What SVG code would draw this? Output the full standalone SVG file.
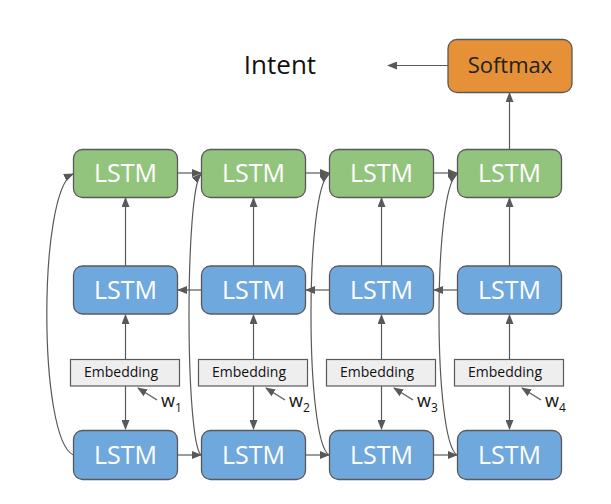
<svg xmlns="http://www.w3.org/2000/svg" width="611" height="504" viewBox="0 0 611 504">
<style>
.box{stroke:#595959;stroke-width:1.3}
.g{fill:#93c47d}.b{fill:#6fa8dc}.o{fill:#e69138}
.emb{fill:#eeeeee;stroke:#595959;stroke-width:1.2}
.lt{font-family:"Open Sans",sans-serif;font-size:25px;fill:#ffffff;text-anchor:middle}
.et{font-family:"Open Sans",sans-serif;font-size:14px;fill:#111;text-anchor:middle}
.wt{font-family:"Open Sans",sans-serif;font-size:18px;fill:#111}
.ws{font-size:12px}
.c line,.c path{stroke:#595959;stroke-width:1.2;fill:none;marker-end:url(#ah)}
</style>
<defs>
<marker id="ah" markerWidth="10" markerHeight="8" refX="9" refY="4" orient="auto" markerUnits="userSpaceOnUse">
<path d="M0,0 L10,4 L0,8 Z" fill="#595959"/>
</marker>
</defs>
<rect width="611" height="504" fill="#ffffff"/>
<g id="connectors" class="c">
<line x1="448" y1="65.5" x2="388" y2="65.5"/>
<line x1="509.5" y1="149" x2="509.5" y2="93"/>
<line x1="177.5" y1="173" x2="201" y2="173"/>
<line x1="305.5" y1="173" x2="329" y2="173"/>
<line x1="433.5" y1="173" x2="457" y2="173"/>
<line x1="201.5" y1="290" x2="178" y2="290"/>
<line x1="329.5" y1="290" x2="306" y2="290"/>
<line x1="457.5" y1="290" x2="434" y2="290"/>
<line x1="177.5" y1="455" x2="201" y2="455"/>
<line x1="305.5" y1="455" x2="329" y2="455"/>
<line x1="433.5" y1="455" x2="457" y2="455"/>
<line x1="125.5" y1="266" x2="125.5" y2="198"/>
<line x1="253.5" y1="266" x2="253.5" y2="198"/>
<line x1="381.5" y1="266" x2="381.5" y2="198"/>
<line x1="509.5" y1="266" x2="509.5" y2="198"/>
<line x1="125.5" y1="359" x2="125.5" y2="315"/>
<line x1="253.5" y1="359" x2="253.5" y2="315"/>
<line x1="381.5" y1="359" x2="381.5" y2="315"/>
<line x1="509.5" y1="359" x2="509.5" y2="315"/>
<line x1="125.5" y1="386" x2="125.5" y2="429"/>
<line x1="253.5" y1="386" x2="253.5" y2="429"/>
<line x1="381.5" y1="386" x2="381.5" y2="429"/>
<line x1="509.5" y1="386" x2="509.5" y2="429"/>
<line x1="157" y1="400" x2="138" y2="388"/>
<line x1="285" y1="400" x2="266" y2="388"/>
<line x1="413" y1="400" x2="394" y2="388"/>
<line x1="541" y1="400" x2="522" y2="388"/>
<path d="M73.5,455 C38,440 38,190 73,174"/>
<path d="M201,455 C185,440 185,190 201,174"/>
<path d="M329,455 C305,440 305,190 329,174"/>
<path d="M457,455 C433,440 433,190 457,174"/>
</g>
<text x="280" y="74" font-family="'Open Sans',sans-serif" font-size="26px" fill="#111" text-anchor="middle">Intent</text>
<g id="softmax"><rect class="box o" x="448" y="39.5" width="124" height="53" rx="9"/><text x="510" y="73" font-family="'Open Sans',sans-serif" font-size="22px" fill="#222" text-anchor="middle">Softmax</text></g>
<g id="top1"><rect class="box g" x="73.5" y="149.5" width="104" height="48" rx="9"/><text class="lt" x="125.5" y="182">LSTM</text></g>
<g id="top2"><rect class="box g" x="201.5" y="149.5" width="104" height="48" rx="9"/><text class="lt" x="253.5" y="182">LSTM</text></g>
<g id="top3"><rect class="box g" x="329.5" y="149.5" width="104" height="48" rx="9"/><text class="lt" x="381.5" y="182">LSTM</text></g>
<g id="top4"><rect class="box g" x="457.5" y="149.5" width="104" height="48" rx="9"/><text class="lt" x="509.5" y="182">LSTM</text></g>
<g id="mid1"><rect class="box b" x="73.5" y="266" width="104" height="48" rx="9"/><text class="lt" x="125.5" y="299">LSTM</text></g>
<g id="mid2"><rect class="box b" x="201.5" y="266" width="104" height="48" rx="9"/><text class="lt" x="253.5" y="299">LSTM</text></g>
<g id="mid3"><rect class="box b" x="329.5" y="266" width="104" height="48" rx="9"/><text class="lt" x="381.5" y="299">LSTM</text></g>
<g id="mid4"><rect class="box b" x="457.5" y="266" width="104" height="48" rx="9"/><text class="lt" x="509.5" y="299">LSTM</text></g>
<g id="emb1"><rect class="emb" x="70.5" y="359.5" width="109" height="26.5"/><text class="et" x="121" y="377">Embedding</text></g>
<g id="emb2"><rect class="emb" x="198.5" y="359.5" width="109" height="26.5"/><text class="et" x="249" y="377">Embedding</text></g>
<g id="emb3"><rect class="emb" x="326.5" y="359.5" width="109" height="26.5"/><text class="et" x="377" y="377">Embedding</text></g>
<g id="emb4"><rect class="emb" x="454.5" y="359.5" width="109" height="26.5"/><text class="et" x="505" y="377">Embedding</text></g>
<g id="w1"><text class="wt" x="161" y="407">w<tspan class="ws" dy="5">1</tspan></text></g>
<g id="w2"><text class="wt" x="289" y="407">w<tspan class="ws" dy="5">2</tspan></text></g>
<g id="w3"><text class="wt" x="417" y="407">w<tspan class="ws" dy="5">3</tspan></text></g>
<g id="w4"><text class="wt" x="545" y="407">w<tspan class="ws" dy="5">4</tspan></text></g>
<g id="bot1"><rect class="box b" x="73.5" y="430.5" width="104" height="49" rx="9"/><text class="lt" x="125.5" y="464">LSTM</text></g>
<g id="bot2"><rect class="box b" x="201.5" y="430.5" width="104" height="49" rx="9"/><text class="lt" x="253.5" y="464">LSTM</text></g>
<g id="bot3"><rect class="box b" x="329.5" y="430.5" width="104" height="49" rx="9"/><text class="lt" x="381.5" y="464">LSTM</text></g>
<g id="bot4"><rect class="box b" x="457.5" y="430.5" width="104" height="49" rx="9"/><text class="lt" x="509.5" y="464">LSTM</text></g>
</svg>
